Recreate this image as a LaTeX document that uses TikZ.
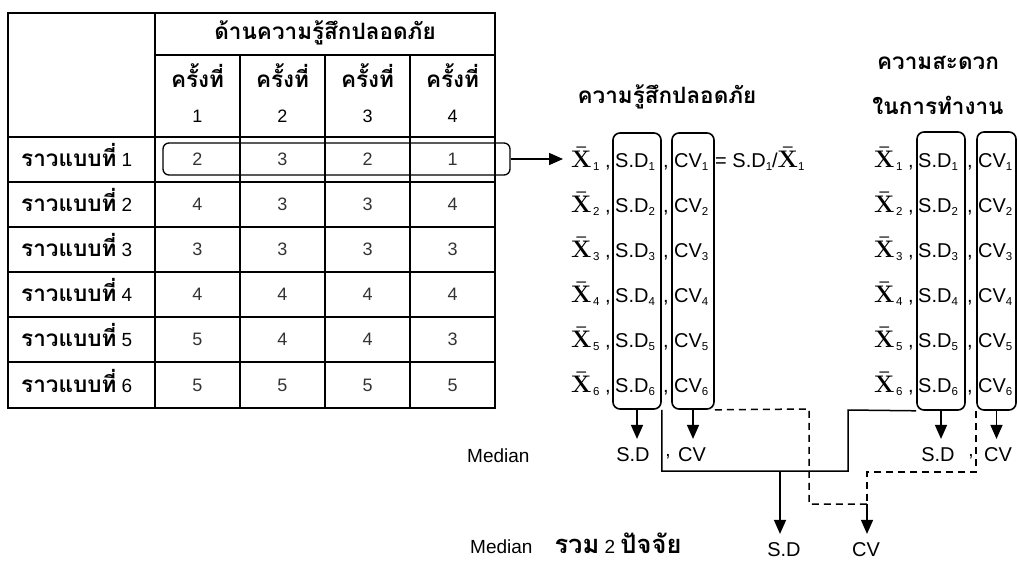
\RequirePackage{fix-cm}
\documentclass[tikz,border=0pt]{standalone}
\usepackage[no-math]{fontspec}
\setmainfont{Liberation Sans}
\newfontfamily\thai[Script=Thai]{Loma}
\newfontfamily\lmr{Latin Modern Roman}
\usetikzlibrary{arrows.meta}
\newcommand\sbs[1]{\raisebox{-3.5pt}{\fontsize{11.5}{12}\selectfont #1}}
\newcommand\xbar{{\fontsize{24}{26}\selectfont\boldmath$\bar{\hbox{\lmr\bfseries X}}$}}
\newcommand\tb[1]{{\thai\bfseries\fontsize{22.5}{24}\selectfont #1}}
\newcommand\tbig[1]{{\thai\bfseries\fontsize{25.5}{27}\selectfont #1}}
\tikzset{
  tbl/.style={line width=2pt},
  thb/.style={font=\thai\bfseries\fontsize{22.5}{24}\selectfont, inner sep=0pt},
  num/.style={font=\fontsize{18}{20}\selectfont, text=black!80, inner sep=0pt},
  hnum/.style={font=\fontsize{18}{20}\selectfont, inner sep=0pt},
  lat/.style={font=\fontsize{19}{21}\selectfont, inner sep=0pt},
  lbl/.style={font=\fontsize{20}{22}\selectfont, inner sep=0pt, outer sep=9pt},
  ent/.style={font=\fontsize{20}{22}\selectfont, inner sep=0pt, anchor=base west},
  colbox/.style={draw, line width=1.6pt, rounded corners=7pt, inner sep=0pt},
  conn/.style={line width=1.5pt},
  arr/.style={conn, -{Triangle[length=14pt,width=12pt]}},
  dsh/.style={conn, dash pattern=on 7pt off 5pt},
}
\begin{document}
\begin{tikzpicture}[x=1pt,y=-1pt]
\useasboundingbox (0,0) rectangle (1019,565);
% table grid
\draw[tbl] (8,13) rectangle (495,408);
\draw[tbl] (155,13) -- (155,408);
\draw[tbl] (155,55) -- (495,55);
\foreach \x in {240,325,410} \draw[tbl] (\x,55) -- (\x,408);
\foreach \y in {137,182,227,272,317,362} \draw[tbl] (8,\y) -- (495,\y);
% header
\node[thb] (hdr) at (325,33) {ด้านความรู้สึกปลอดภัย};
\foreach \i/\x in {1/197.5,2/282.5,3/367.5,4/452.5}{
  \node[thb] (k\i) at (\x,76) {ครั้งที่};
  \node[hnum] (n\i) at (\x,116) {\i};
}
% rows
\foreach \i/\y/\a/\b/\c/\d in {1/159.5/2/3/2/1,2/204.5/4/3/3/4,3/249.5/3/3/3/3,4/294.5/4/4/4/4,5/339.5/5/4/4/3,6/385/5/5/5/5}{
  \node[anchor=base west, inner sep=0pt, font=\fontsize{19}{21}\selectfont] (r\i) at (21,\y+7) {\tb{ราวแบบที่} \i};
  \node[num] (v\i a) at (197.5,\y) {\a};
  \node[num] (v\i b) at (282.5,\y) {\b};
  \node[num] (v\i c) at (367.5,\y) {\c};
  \node[num] (v\i d) at (452.5,\y) {\d};
}
\node[draw, line width=1.3pt, rounded corners=6pt, inner sep=0pt, minimum width=347pt, minimum height=32pt] (rowbox) at (336.5,159) {};
% titles
\node[thb] (tA) at (667,97) {ความรู้สึกปลอดภัย};
\node[thb] (tB1) at (938,63) {ความสะดวก};
\node[thb] (tB2) at (938,105) {ในการทำงาน};
% column boxes
\node[colbox, minimum width=48pt, minimum height=276pt] (sdA) at (637,271) {};
\node[colbox, minimum width=42pt, minimum height=276pt] (cvA) at (693,271) {};
\node[colbox, minimum width=48pt, minimum height=278pt] (sdB) at (941,271) {};
\node[colbox, minimum width=39pt, minimum height=278pt] (cvB) at (996.5,271) {};
% entries
\foreach \i/\y in {1/160,2/205,3/250,4/295,5/340,6/385}{
  \node[ent] (xa\i) at (571,\y+7) {\xbar\kern1.5pt\sbs{\i}\ ,};
  \node[ent] (sa\i) at (615,\y+7) {S.D\sbs{\i}};
  \node[ent] (ka\i) at (663,\y+7) {,};
  \node[ent] (ca\i) at (674,\y+7) {CV\sbs{\i}};
  \node[ent] (xb\i) at (874,\y+7) {\xbar\kern1.5pt\sbs{\i}\ ,};
  \node[ent] (sb\i) at (918,\y+7) {S.D\sbs{\i}};
  \node[ent] (kb\i) at (967,\y+7) {,};
  \node[ent] (cb\i) at (978,\y+7) {CV\sbs{\i}};
}
\node[ent] (eq) at (715,167) {= S.D\sbs{1}/\xbar\sbs{1}};
\draw[arr, shorten >=8pt] (rowbox.east) -- (xa1.west |- rowbox.east);
% median labels
\node[lat, anchor=base west] (med1) at (467,462) {Median};
\node[lbl] (sdlA) at (633,455) {S.D};
\node[lat] (cmA) at (668,457) {,};
\node[lbl] (cvlA) at (692,455) {CV};
\node[lbl] (sdlB) at (938,455) {S.D};
\node[lat] (cmB) at (971,457) {,};
\node[lbl] (cvlB) at (998,455) {CV};
\node[lat, anchor=base west] (med2) at (470,553) {Median\hspace{22pt}\tbig{รวม} 2 \tbig{ปัจจัย}};
\node[lbl] (sdF) at (784,550) {S.D};
\node[lbl] (cvF) at (866,550) {CV};
% arrows to medians
\draw[arr] (sdA.south) -- (sdA.south |- sdlA.north);
\draw[arr] (cvA.south) -- (cvA.south |- cvlA.north);
\draw[arr] (sdB.south) -- (sdB.south |- sdlB.north);
\draw[arr] (cvB.south) -- (cvB.south |- cvlB.north);
% combining connectors
\coordinate (jA) at (780,471);
\coordinate (jB) at (867,504);
\draw[conn] (sdA.south east) |- (848,471) -- (848,410) -- (sdB.south west);
\draw[arr] (jA) -- (jA |- sdF.north);
\draw[dsh] (cvA.south east) -- (809,409) -- (809,504) -- (jB);
\draw[dsh] (cvB.south west) |- (867,472) -- (jB);
\draw[arr] (jB) -- (jB |- cvF.north);
\end{tikzpicture}
\end{document}
